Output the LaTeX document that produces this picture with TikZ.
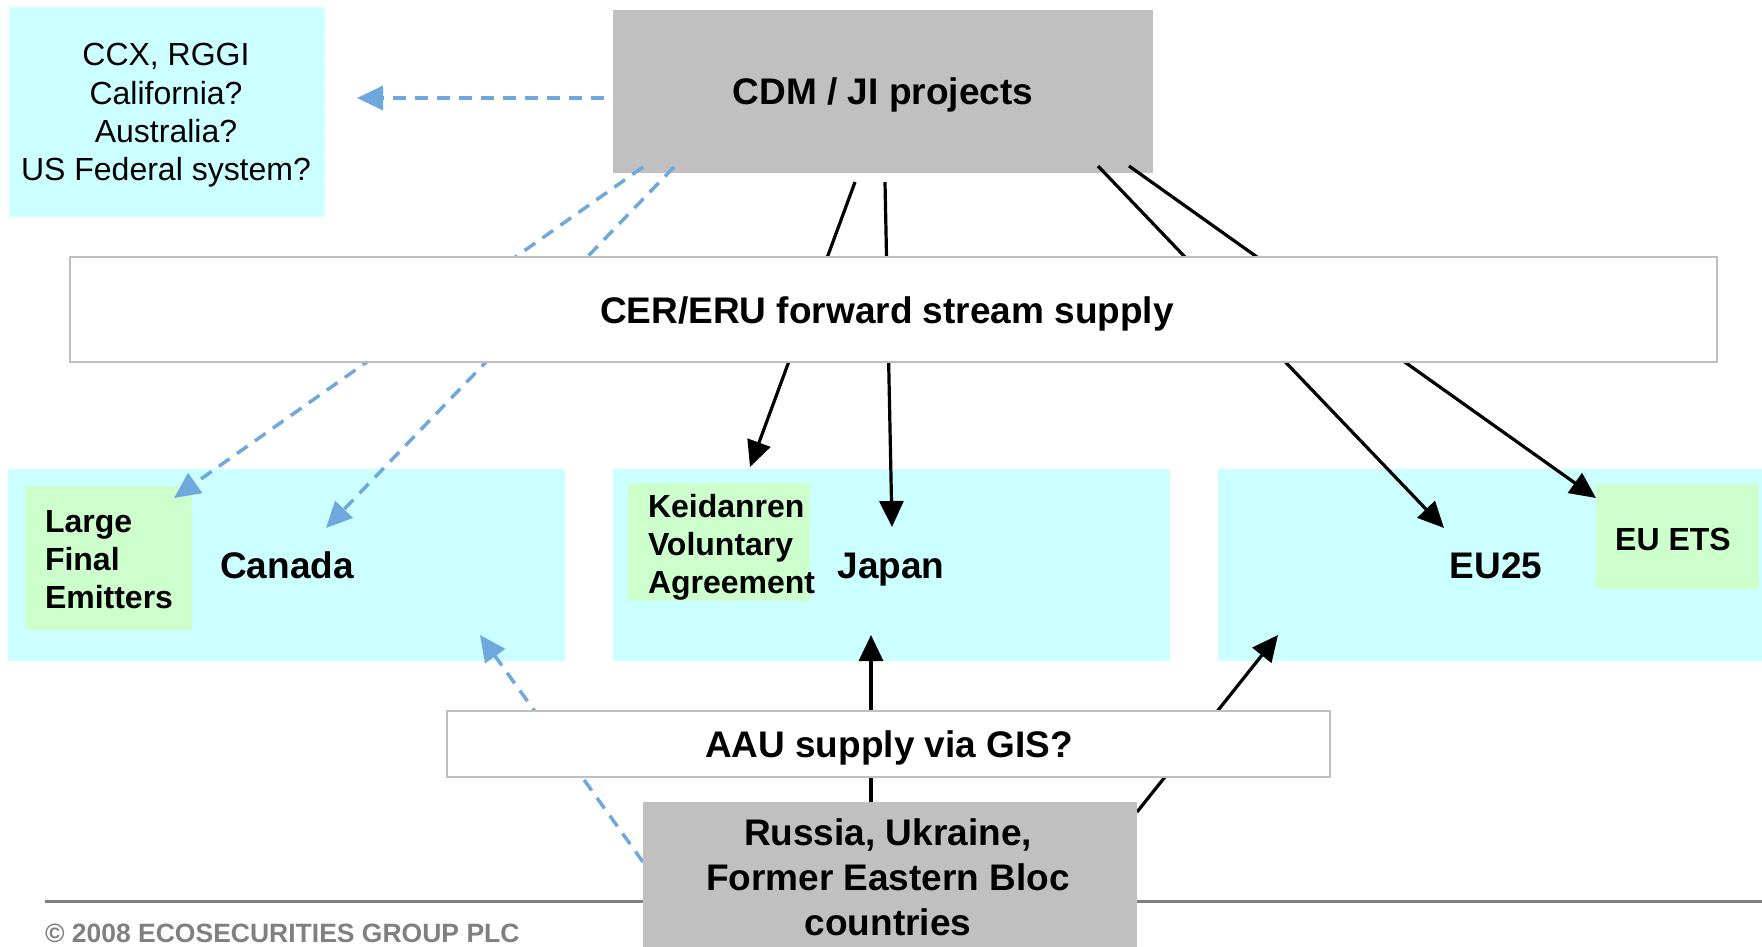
\documentclass[tikz,border=0pt]{standalone}
\usepackage{fontspec}
\setmainfont{Liberation Sans}
\usetikzlibrary{arrows.meta}

\definecolor{paleCyan}{HTML}{CCFFFF}
\definecolor{paleGreen}{HTML}{CCFFCC}
\definecolor{boxGray}{HTML}{C0C0C0}
\definecolor{frameGray}{HTML}{BFBFBF}
\definecolor{linkBlue}{HTML}{6FA8DC}
\definecolor{footGray}{HTML}{808080}
\definecolor{edgeCyan}{HTML}{E6FFFF}

\begin{document}
\begin{tikzpicture}[x=1pt,y=-1pt,
  every node/.style={inner sep=0pt, outer sep=0pt},
  region/.style={fill=paleCyan},
  subregion/.style={fill=paleGreen},
  graybox/.style={fill=boxGray},
  streambox/.style={fill=white, draw=frameGray, line width=2.5pt},
  bigtext/.style={font=\fontsize{37}{45}\selectfont\bfseries},
  midbold/.style={font=\fontsize{32}{38}\selectfont\bfseries},
  regtext/.style={font=\fontsize{32}{38.3}\selectfont},
  foot/.style={font=\fontsize{26.5}{32}\selectfont\bfseries, text=footGray},
  flow/.style={draw=black, line width=3.2pt, -{Triangle[length=26pt,width=24pt]}},
  maybeflow/.style={draw=linkBlue, line width=3.5pt, dash pattern=on 13pt off 9pt,
                    -{Triangle[length=26pt,width=24pt]}}
]
\useasboundingbox (0,0) rectangle (1762,947);

% market regions
\node[region, draw=edgeCyan, dashed, line width=1.5pt, minimum width=316pt, minimum height=210pt] (other) at (167,112) {};
\node[region, minimum width=557pt, minimum height=192pt] (canada) at (286.5,565) {};
\node[region, minimum width=557pt, minimum height=192pt] (japan) at (891.5,565) {};
\node[region, minimum width=547pt, minimum height=192pt] (eu) at (1491.5,565) {};

% domestic schemes inside the regions
\node[subregion, minimum width=167pt, minimum height=144pt] (lfe) at (108.5,558) {};
\node[subregion, minimum width=182pt, minimum height=118pt] (keid) at (719,542) {};
\node[subregion, minimum width=163pt, minimum height=105pt] (ets) at (1677.5,536.5) {};

% footer rule
\coordinate (ruleL) at (45,901.5);
\coordinate (ruleR) at (1762,901.5);
\draw[footGray, line width=2.5pt] (ruleL) -- (ruleR);

% project source
\node[graybox, minimum width=540pt, minimum height=163pt] (cdm) at (883,91.5) {};

% connector end points
\coordinate (p1s) at (604,98);   \coordinate (p1e) at (357,98);
\coordinate (p2s) at (643,167);  \coordinate (p2e) at (174,498);
\coordinate (p3s) at (674,167);  \coordinate (p3e) at (326,528);
\coordinate (p4s) at (643,862);  \coordinate (p4e) at (480,635);
\coordinate (p5s) at (855,182);  \coordinate (p5e) at (750,467);
\coordinate (p6s) at (885,182);  \coordinate (p6e) at (892,527);
\coordinate (p7s) at (1098,166); \coordinate (p7e) at (1444,528);
\coordinate (p8s) at (1129,166); \coordinate (p8e) at (1596,498);
\coordinate (p9s) at (871,802);  \coordinate (p9e) at (871,635);
\coordinate (p10s) at (1137,812); \coordinate (p10e) at (1278,635);

% uncertain flows
\draw[maybeflow] (p1s) -- (p1e);
\draw[maybeflow] (p2s) -- (p2e);
\draw[maybeflow] (p3s) -- (p3e);
\draw[maybeflow] (p4s) -- (p4e);

% established flows
\draw[flow] (p5s) -- (p5e);
\draw[flow] (p6s) -- (p6e);
\draw[flow] (p7s) -- (p7e);
\draw[flow] (p8s) -- (p8e);
\draw[flow] (p9s) -- (p9e);
\draw[flow] (p10s) -- (p10e);

% supply channels laid over the flows
\node[streambox, minimum width=1647pt, minimum height=105pt] (cer) at (893.5,309.5) {};
\node[streambox, minimum width=883pt, minimum height=66pt] (aau) at (888.5,744) {};
\node[graybox, minimum width=494pt, minimum height=145pt] (rus) at (890,874.5) {};

% labels
\node[bigtext, anchor=base] (cdmtext) at (883,105) {CDM / JI projects};
\node[bigtext, anchor=base] (certext) at (887,323) {CER/ERU forward stream supply};
\node[bigtext, anchor=base] (canadatext) at (287,578) {Canada};
\node[bigtext, anchor=base] (japantext) at (891,578) {Japan};
\node[bigtext, anchor=base] (eutext) at (1496,578) {EU25};
\node[midbold, anchor=base] (etstext) at (1673,550) {EU ETS};
\node[bigtext, anchor=base] (aautext) at (889,757) {AAU supply via GIS?};
\node[bigtext, anchor=base] (rustext) at (888,845)
  {\begin{tabular}[t]{@{}c@{}}Russia, Ukraine,\\Former Eastern Bloc\\countries\end{tabular}};
\node[regtext, anchor=base] (othertext) at (166,66)
  {\begin{tabular}[t]{@{}c@{}}CCX, RGGI\\California?\\Australia?\\US Federal system?\end{tabular}};
\node[midbold, anchor=base west] (lfetext) at (45,532)
  {\begin{tabular}[t]{@{}l@{}}Large\\Final\\Emitters\end{tabular}};
\node[midbold, anchor=base west] (keidtext) at (648,517)
  {\begin{tabular}[t]{@{}l@{}}Keidanren\\Voluntary\\Agreement\end{tabular}};
\node[foot, anchor=base west] (foottext) at (45,942) {© 2008 ECOSECURITIES GROUP PLC};
\end{tikzpicture}
\end{document}
